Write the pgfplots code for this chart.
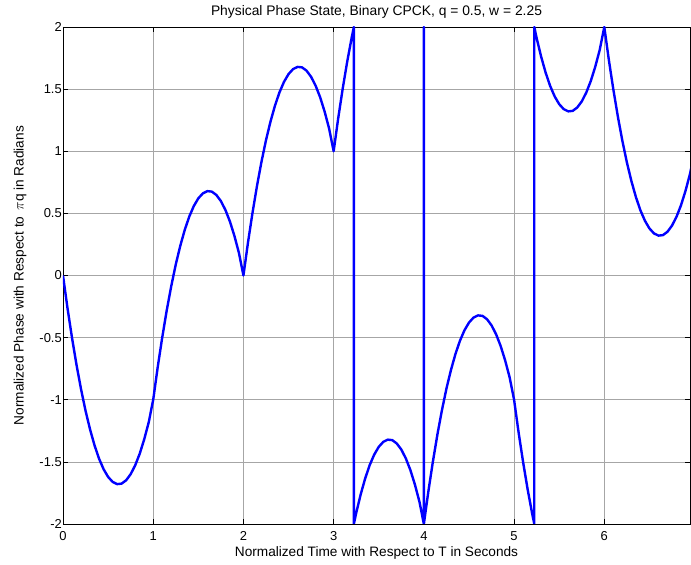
\documentclass[border=0pt]{standalone}
\usepackage{fontspec}
\setmainfont{Liberation Sans}
\usepackage{pgfplots}
\pgfplotsset{compat=1.18}
\begin{document}
\begin{tikzpicture}
\useasboundingbox (-63bp,-41bp) rectangle (628bp,524bp);
\begin{axis}[
  at={(0,0)}, anchor=south west,
  scale only axis, width=627bp, height=497bp,
  xmin=0, xmax=6.95, ymin=-2, ymax=2,
  xtick={0,1,2,3,4,5,6},
  ytick={-2,-1.5,-1,-0.5,0,0.5,1,1.5,2},
  /pgf/number format/assume math mode=true,
  tick align=inside, tick pos=both,
  major tick length=5bp,
  grid=major,
  major grid style={gray!70, line width=0.5bp},
  axis line style={black, line width=0.8bp},
  every tick/.style={black, line width=0.6bp},
  tick label style={font=\fontsize{13}{15}\selectfont},
  yticklabel style={inner sep=1bp},
  xticklabel style={inner sep=1bp, yshift=-6bp},
  title={Physical Phase State, Binary CPCK, q = 0.5, w = 2.25},
  title style={at={(axis description cs:0.5,1.0181)}, anchor=center, font=\fontsize{13.9}{15}\selectfont},
  xlabel={Normalized Time with Respect to T in Seconds},
  xlabel style={at={(axis description cs:0.5,-0.0584)}, anchor=center, font=\fontsize{13.7}{15}\selectfont},
  ylabel={Normalized Phase with Respect to \,$\pi$q in Radians},
  ylabel style={at={(axis description cs:-0.0686,0.5)}, anchor=center, font=\fontsize{13.7}{15}\selectfont},
]
\addplot[blue, line width=2.4bp, line join=round] coordinates {
(0.00,0.000) (0.05,-0.263) (0.10,-0.502) (0.15,-0.720) (0.20,-0.915) (0.25,-1.089) (0.30,-1.239) (0.35,-1.368) (0.40,-1.475) (0.45,-1.559) (0.50,-1.621) (0.55,-1.661) (0.60,-1.679) (0.65,-1.675) (0.70,-1.648) (0.75,-1.599) (0.80,-1.528) (0.85,-1.435) (0.90,-1.319) (0.95,-1.182) (1.00,-1.000)
(1.05,-0.737) (1.10,-0.498) (1.15,-0.280) (1.20,-0.085) (1.25,0.089) (1.30,0.239) (1.35,0.368) (1.40,0.475) (1.45,0.559) (1.50,0.621) (1.55,0.661) (1.60,0.679) (1.65,0.675) (1.70,0.648) (1.75,0.599) (1.80,0.528) (1.85,0.435) (1.90,0.319) (1.95,0.182) (2.00,0.000)
(2.05,0.263) (2.10,0.502) (2.15,0.720) (2.20,0.915) (2.25,1.089) (2.30,1.239) (2.35,1.368) (2.40,1.475) (2.45,1.559) (2.50,1.621) (2.55,1.661) (2.60,1.679) (2.65,1.675) (2.70,1.648) (2.75,1.599) (2.80,1.528) (2.85,1.435) (2.90,1.319) (2.95,1.182) (3.00,1.000)
(3.05,1.263) (3.10,1.502) (3.15,1.720) (3.20,1.915) (3.224,2.000) (3.224,-2.000) (3.25,-1.911) (3.30,-1.761) (3.35,-1.632) (3.40,-1.525) (3.45,-1.441) (3.50,-1.379) (3.55,-1.339) (3.60,-1.321) (3.65,-1.325) (3.70,-1.352) (3.75,-1.401) (3.80,-1.472) (3.85,-1.565) (3.90,-1.681) (3.95,-1.818) (4.00,-2.000)
(4.00,2.000) (4.00,-2.000)
(4.05,-1.737) (4.10,-1.498) (4.15,-1.280) (4.20,-1.085) (4.25,-0.911) (4.30,-0.761) (4.35,-0.632) (4.40,-0.525) (4.45,-0.441) (4.50,-0.379) (4.55,-0.339) (4.60,-0.321) (4.65,-0.325) (4.70,-0.352) (4.75,-0.401) (4.80,-0.472) (4.85,-0.565) (4.90,-0.681) (4.95,-0.818) (5.00,-1.000)
(5.05,-1.263) (5.10,-1.502) (5.15,-1.720) (5.20,-1.915) (5.224,-2.000) (5.224,2.000) (5.25,1.911) (5.30,1.761) (5.35,1.632) (5.40,1.525) (5.45,1.441) (5.50,1.379) (5.55,1.339) (5.60,1.321) (5.65,1.325) (5.70,1.352) (5.75,1.401) (5.80,1.472) (5.85,1.565) (5.90,1.681) (5.95,1.818) (6.00,2.000)
(6.05,1.737) (6.10,1.498) (6.15,1.280) (6.20,1.085) (6.25,0.911) (6.30,0.761) (6.35,0.632) (6.40,0.525) (6.45,0.441) (6.50,0.379) (6.55,0.339) (6.60,0.321) (6.65,0.325) (6.70,0.352) (6.75,0.401) (6.80,0.472) (6.85,0.565) (6.90,0.681) (6.95,0.818) (7.00,1.000)
};
\end{axis}
\end{tikzpicture}
\end{document}
